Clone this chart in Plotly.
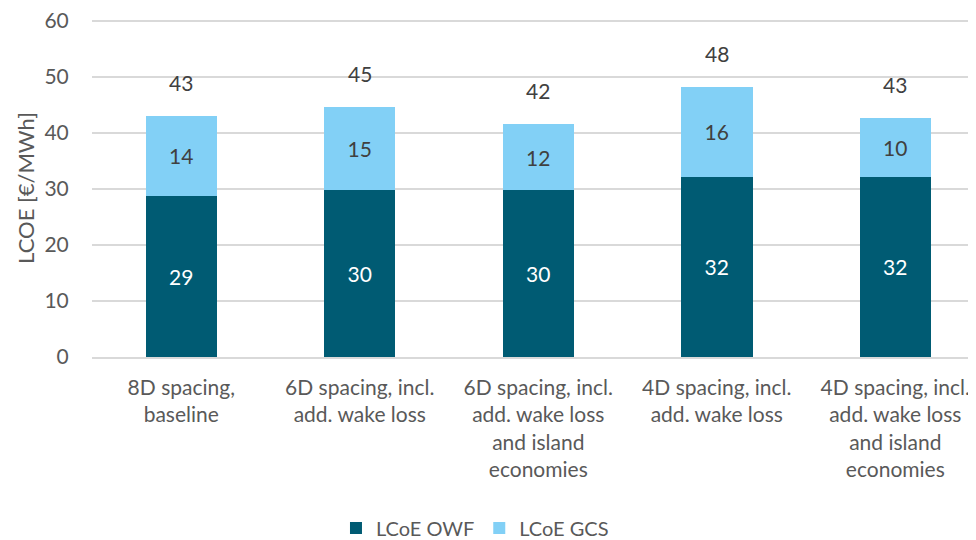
import plotly.graph_objects as go

categories = [
    "8D spacing,<br>baseline",
    "6D spacing, incl.<br>add. wake loss",
    "6D spacing, incl.<br>add. wake loss<br>and island<br>economies",
    "4D spacing, incl.<br>add. wake loss",
    "4D spacing, incl.<br>add. wake loss<br>and island<br>economies",
]
lcoe_owf = [28.8, 29.8, 29.8, 32.2, 32.2]
lcoe_gcs = [14.3, 14.8, 11.8, 16.1, 10.5]
owf_labels = ["29", "30", "30", "32", "32"]
gcs_labels = ["14", "15", "12", "16", "10"]
total_labels = ["43", "45", "42", "48", "43"]
y_ticks = [0, 10, 20, 30, 40, 50, 60]
totals = [a + b for a, b in zip(lcoe_owf, lcoe_gcs)]

FONT = "Lato"
FS = 21
fig = go.Figure()
fig.add_trace(go.Bar(
    name="LCoE OWF", x=categories, y=lcoe_owf, width=0.4,
    marker=dict(color="#005B73", line=dict(width=0)),
    text=owf_labels, textposition="inside", insidetextanchor="middle",
    textfont=dict(color="white", size=FS, family=FONT), textangle=0,
))
fig.add_trace(go.Bar(
    name="LCoE GCS", x=categories, y=lcoe_gcs, width=0.4,
    marker=dict(color="#82D0F6", line=dict(width=0)),
    text=gcs_labels, textposition="inside", insidetextanchor="middle",
    textfont=dict(color="#404040", size=FS, family=FONT), textangle=0,
))
for c, t, lab in zip(categories, totals, total_labels):
    fig.add_annotation(x=c, y=t, text=lab, showarrow=False, yanchor="bottom",
                       yshift=19, font=dict(size=FS, color="#404040", family=FONT))

fig.update_layout(
    barmode="stack",
    width=968, height=532,
    margin=dict(l=84, r=0, t=11, b=183, autoexpand=False),
    paper_bgcolor="white", plot_bgcolor="white",
    font=dict(family=FONT, size=FS, color="#595959"),
    legend=dict(orientation="h", x=0.276, xanchor="left", y=-0.506, yanchor="middle",
                font=dict(size=20, color="#595959"), itemwidth=30, traceorder="normal"),
    uniformtext=dict(mode=False),
)
fig.update_xaxes(
    type="category", range=[-0.5, 4.452], showgrid=False, automargin=False,
    showline=True, linecolor="#D9D9D9", linewidth=1.5,
    ticks="outside", ticklen=11, tickcolor="rgba(0,0,0,0)",
    tickfont=dict(size=FS, color="#595959", family=FONT),
)
fig.update_yaxes(
    range=[0, 60.36], tickmode="array", tickvals=y_ticks, ticklabeloverflow="allow",
    showgrid=True, gridcolor="#D9D9D9", gridwidth=1.5,
    zeroline=False, showline=False, automargin=False,
    ticks="outside", ticklen=18, tickcolor="rgba(0,0,0,0)",
    tickfont=dict(size=FS, color="#595959", family=FONT),
    title=dict(text="LCOE [€/MWh]", font=dict(size=22, color="#595959", family=FONT), standoff=3),
)
fig.write_html("out.html")
